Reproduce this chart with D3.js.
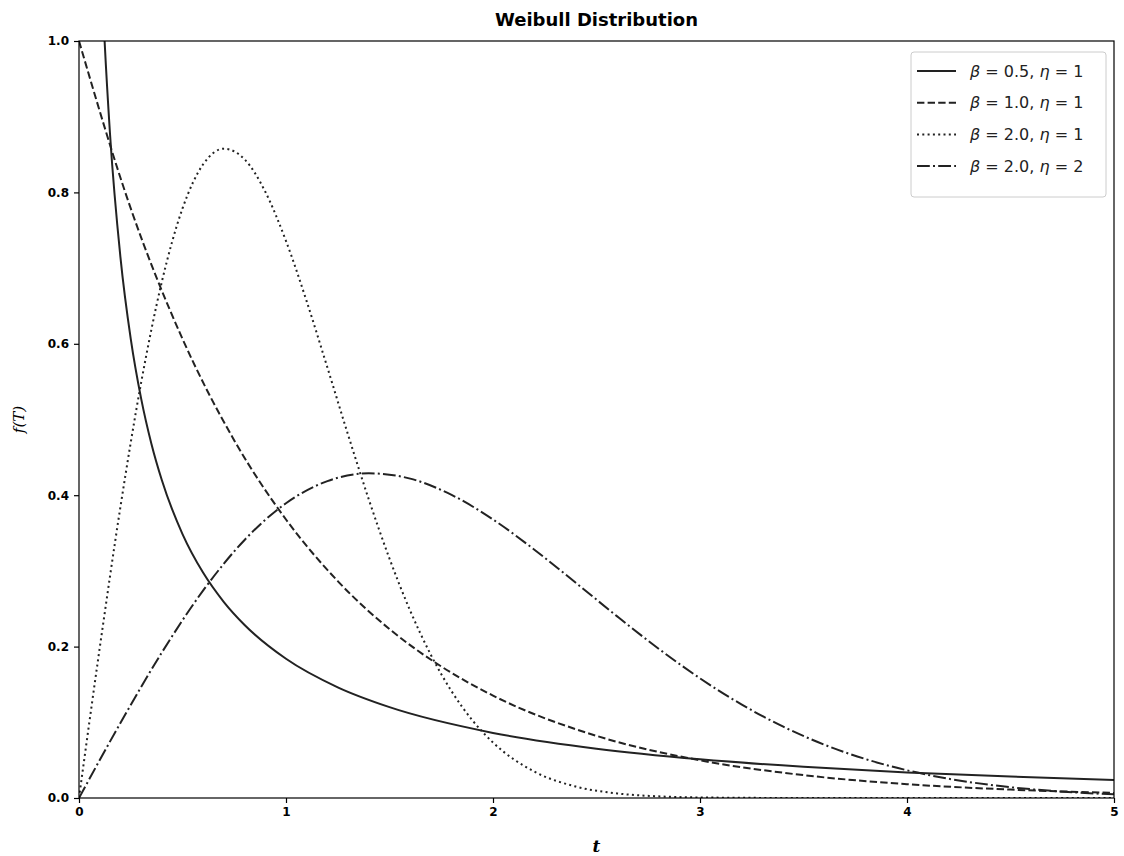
<!DOCTYPE html>
<html lang="en">

<head>
    <meta charset="UTF-8">
    <title>Weibull Distribution</title>
    <script src="https://d3js.org/d3.v7.min.js"></script>
    <style>
        body { margin: 0; background: #fff; }
        .tick text { font-family: "DejaVu Sans", sans-serif; font-weight: bold; font-size: 12px; fill: #000; }
        .tick line { stroke: #000; stroke-width: 1.2; }
        .curve { fill: none; stroke: #222; stroke-width: 2; }
    </style>
</head>

<body>
    <svg width="1124" height="856"></svg>
    <script>
        // beta = 0.5, eta = 1 (clipped above 1.0)
        var tA = [0.1, 0.12, 0.15, 0.2, 0.25, 0.3, 0.35, 0.4, 0.5, 0.6, 0.7, 0.8, 1.0, 1.25, 1.5, 2.0, 2.5, 3.0, 3.5, 4.0, 4.5, 5.0];
        var fA = [1.1525, 1.0208, 0.8765, 0.7149, 0.6065, 0.5279, 0.4677, 0.4200, 0.3487, 0.2975, 0.2589, 0.2286, 0.1839, 0.1462, 0.1200, 0.0860, 0.0651, 0.0511, 0.0412, 0.0338, 0.0283, 0.0239];

        // beta = 1.0, eta = 1
        var tB = [0, 0.25, 0.5, 0.75, 1.0, 1.25, 1.5, 1.75, 2.0, 2.5, 3.0, 3.5, 4.0, 4.5, 5.0];
        var fB = [1.0, 0.7788, 0.6065, 0.4724, 0.3679, 0.2865, 0.2231, 0.1738, 0.1353, 0.0821, 0.0498, 0.0302, 0.0183, 0.0111, 0.0067];

        // beta = 2.0, eta = 1
        var tC = [0, 0.1, 0.2, 0.3, 0.4, 0.5, 0.6, 0.7, 0.8, 0.9, 1.0, 1.1, 1.2, 1.3, 1.4, 1.5, 1.6, 1.7, 1.8, 1.9, 2.0, 2.2, 2.4, 2.6, 2.8, 3.0, 3.5, 4.0, 5.0];
        var fC = [0, 0.1980, 0.3843, 0.5484, 0.6817, 0.7788, 0.8372, 0.8577, 0.8437, 0.8008, 0.7358, 0.6560, 0.5686, 0.4797, 0.3944, 0.3162, 0.2474, 0.1890, 0.1410, 0.1028, 0.0733, 0.0348, 0.0151, 0.0060, 0.0022, 0.0007, 0.00003, 0, 0];

        // beta = 2.0, eta = 2
        var tD = [0, 0.2, 0.4, 0.6, 0.8, 1.0, 1.2, 1.4, 1.6, 1.8, 2.0, 2.2, 2.4, 2.6, 2.8, 3.0, 3.2, 3.4, 3.6, 3.8, 4.0, 4.2, 4.4, 4.6, 4.8, 5.0];
        var fD = [0, 0.0990, 0.1921, 0.2742, 0.3409, 0.3894, 0.4186, 0.4289, 0.4219, 0.4004, 0.3679, 0.3280, 0.2843, 0.2399, 0.1972, 0.1581, 0.1237, 0.0945, 0.0705, 0.0514, 0.0366, 0.0255, 0.0174, 0.0116, 0.0076, 0.0048];

        var betas = ["0.5", "1.0", "2.0", "2.0"];
        var etas = ["1", "1", "1", "2"];
        var xTicks = [0, 1, 2, 3, 4, 5];
        var yTicks = [0, 0.2, 0.4, 0.6, 0.8, 1.0];

        var series = [
            { t: tA, f: fA, dash: null },
            { t: tB, f: fB, dash: "7.4,3.2" },
            { t: tC, f: fC, dash: "2,3.3" },
            { t: tD, f: fD, dash: "12.8,3.2,2,3.2" }
        ];

        var svg = d3.select("svg"),
            plotLeft = 79, plotTop = 41, plotRight = 1114, plotBottom = 798;

        var x = d3.scaleLinear().domain([0, 5]).range([plotLeft, plotRight]),
            y = d3.scaleLinear().domain([0, 1]).range([plotBottom, plotTop]);

        svg.append("clipPath").attr("id", "plot")
            .append("rect").attr("x", plotLeft).attr("y", plotTop)
            .attr("width", plotRight - plotLeft).attr("height", plotBottom - plotTop);

        var line = d3.line()
            .x(function (d) { return x(d[0]); })
            .y(function (d) { return y(d[1]); })
            .curve(d3.curveMonotoneX);

        // Curves
        svg.append("g").attr("clip-path", "url(#plot)")
            .selectAll(".curve")
            .data(series)
            .enter().append("path")
            .attr("class", "curve")
            .attr("stroke-dasharray", function (d) { return d.dash; })
            .attr("d", function (d) { return line(d.t.map(function (t, i) { return [t, d.f[i]]; })); });

        // Frame
        svg.append("rect")
            .attr("x", plotLeft).attr("y", plotTop)
            .attr("width", plotRight - plotLeft).attr("height", plotBottom - plotTop)
            .attr("fill", "none").attr("stroke", "#000").attr("stroke-width", 1.2);

        // Axes
        svg.append("g")
            .attr("transform", "translate(0," + plotBottom + ")")
            .call(d3.axisBottom(x).tickValues(xTicks).tickFormat(d3.format("d")).tickSize(5).tickPadding(4))
            .call(function (g) { g.select(".domain").remove(); });

        svg.append("g")
            .attr("transform", "translate(" + plotLeft + ",0)")
            .call(d3.axisLeft(y).tickValues(yTicks).tickFormat(d3.format(".1f")).tickSize(5).tickPadding(5))
            .call(function (g) { g.select(".domain").remove(); });

        // Title and axis labels
        svg.append("text")
            .attr("x", (plotLeft + plotRight) / 2).attr("y", 26)
            .attr("text-anchor", "middle")
            .style("font-family", "DejaVu Sans, sans-serif")
            .style("font-weight", "bold").style("font-size", "18px")
            .text("Weibull Distribution");

        svg.append("text")
            .attr("x", (plotLeft + plotRight) / 2).attr("y", 852)
            .attr("text-anchor", "middle")
            .style("font-family", "DejaVu Serif, serif")
            .style("font-style", "italic").style("font-weight", "bold").style("font-size", "17px")
            .text("t");

        svg.append("text")
            .attr("transform", "translate(24," + ((plotTop + plotBottom) / 2) + ") rotate(-90)")
            .attr("text-anchor", "middle")
            .style("font-family", "DejaVu Serif, serif")
            .style("font-style", "italic").style("font-size", "15px")
            .text("f(T)");

        // Legend
        var legend = svg.append("g").attr("transform", "translate(911,52)");
        legend.append("rect")
            .attr("width", 195).attr("height", 145)
            .attr("rx", 3)
            .attr("fill", "#fff").attr("fill-opacity", 0.8)
            .attr("stroke", "#ccc");

        var item = legend.selectAll(".item")
            .data(series)
            .enter().append("g")
            .attr("transform", function (d, i) { return "translate(0," + (19 + i * 31.7) + ")"; });

        item.append("line")
            .attr("x1", 6).attr("x2", 45)
            .attr("stroke", "#222").attr("stroke-width", 2)
            .attr("stroke-dasharray", function (d) { return d.dash; });

        var txt = item.append("text")
            .attr("x", 59).attr("dy", "0.35em")
            .style("font-family", "DejaVu Sans, sans-serif")
            .style("font-size", "16px").style("fill", "#222");
        txt.append("tspan").style("font-style", "italic").text("β");
        txt.append("tspan").text(function (d, i) { return " = " + betas[i] + ",  "; });
        txt.append("tspan").style("font-style", "italic").text("η");
        txt.append("tspan").text(function (d, i) { return " = " + etas[i]; });
    </script>
</body>

</html>
